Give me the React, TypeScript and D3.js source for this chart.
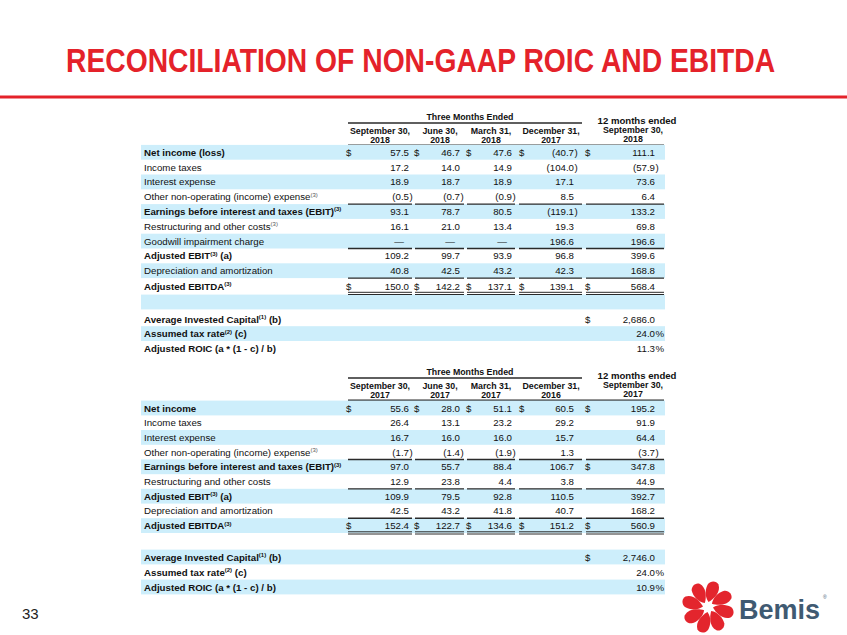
import React, { useLayoutEffect, useRef, useState } from 'react';
import * as d3 from 'd3';

const W = 847;
const H = 635;

// ---------- DATA ----------
const title = 'RECONCILIATION OF NON-GAAP ROIC AND EBITDA';
const pageNumber = '33';
const brand = 'Bemis';

const quarterHeaders2018 = [['September 30,', '2018'], ['June 30,', '2018'], ['March 31,', '2018'], ['December 31,', '2017']];
const annualHeader2018 = ['12 months ended', 'September 30,', '2018'];
const quarterHeaders2017 = [['September 30,', '2017'], ['June 30,', '2017'], ['March 31,', '2017'], ['December 31,', '2016']];
const annualHeader2017 = ['12 months ended', 'September 30,', '2017'];
const groupHeader = 'Three Months Ended';

const netIncome2018 = [57.5, 46.7, 47.6, -40.7, 111.1];
const incomeTaxes2018 = [17.2, 14.0, 14.9, -104.0, -57.9];
const interest2018 = [18.9, 18.7, 18.9, 17.1, 73.6];
const otherNonOp2018 = [-0.5, -0.7, -0.9, 8.5, 6.4];
const ebit2018 = [93.1, 78.7, 80.5, -119.1, 133.2];
const restructuring2018 = [16.1, 21.0, 13.4, 19.3, 69.8];
const goodwill2018 = [null, null, null, 196.6, 196.6];
const adjEbit2018 = [109.2, 99.7, 93.9, 96.8, 399.6];
const da2018 = [40.8, 42.5, 43.2, 42.3, 168.8];
const adjEbitda2018 = [150.0, 142.2, 137.1, 139.1, 568.4];
const investedCapital2018 = 2686.0;
const taxRate2018 = 24.0;
const roic2018 = 11.3;

const netIncome2017 = [55.6, 28.0, 51.1, 60.5, 195.2];
const incomeTaxes2017 = [26.4, 13.1, 23.2, 29.2, 91.9];
const interest2017 = [16.7, 16.0, 16.0, 15.7, 64.4];
const otherNonOp2017 = [-1.7, -1.4, -1.9, 1.3, -3.7];
const ebit2017 = [97.0, 55.7, 88.4, 106.7, 347.8];
const restructuring2017 = [12.9, 23.8, 4.4, 3.8, 44.9];
const adjEbit2017 = [109.9, 79.5, 92.8, 110.5, 392.7];
const da2017 = [42.5, 43.2, 41.8, 40.7, 168.2];
const adjEbitda2017 = [152.4, 122.7, 134.6, 151.2, 560.9];
const investedCapital2017 = 2746.0;
const taxRate2017 = 24.0;
const roic2017 = 10.9;

// ---------- STYLE / LAYOUT ----------
const FONT = '"Liberation Sans", Arial, Helvetica, sans-serif';
const RED = '#e4222a';
const BAND = '#cdeefb';
const INK = '#111';
const LINE = '#2a2a2a';
const FS = 9.7;

const colRight = [409, 460, 512, 574, 655];
const colDollar = [346, 414, 466, 519, 585];
const colLineL = [348, 415, 467, 519, 586];
const colLineR = [412, 464, 515, 582, 664];
const colCenter = [380, 440, 491, 551, 634];
const bandX0 = 141;
const bandX1 = 665;
const labelX = 144;
const titleX = 66;
const titleW = 709;

const fmt = d3.format(',.1f');

type Seg = { text: string; sup?: string; rest?: string };
type Row = {
  label?: Seg;
  bold?: boolean;
  values?: (number | null)[];
  single?: { value: number; suffix?: string };
  dollars?: number[];
  under?: 'single' | 'double';
  y: number;
};

function Label({ seg, bold, y }: { seg: Seg; bold?: boolean; y: number }) {
  return (
    <text x={labelX} y={y} fontFamily={FONT} fontSize={FS} fontWeight={bold ? 'bold' : 'normal'} fill={INK}>
      {seg.text}
      {seg.sup ? (
        <tspan fontSize={6} dy={-3.6} fill={bold ? INK : '#555'}>
          {seg.sup}
        </tspan>
      ) : null}
      {seg.rest ? <tspan dy={seg.sup ? 3.6 : 0}>{seg.rest}</tspan> : null}
    </text>
  );
}

function Num({ v, x, y, suffix }: { v: number | null; x: number; y: number; suffix?: string }) {
  if (v === null) {
    return (
      <text x={x - 5} y={y} textAnchor="end" fontFamily={FONT} fontSize={FS} fill={INK}>
        —
      </text>
    );
  }
  const neg = v < 0;
  const body = (neg ? '(' : '') + fmt(Math.abs(v));
  const hang = neg ? ')' : suffix || '';
  return (
    <g>
      <text x={x} y={y} textAnchor="end" fontFamily={FONT} fontSize={FS} fill={INK}>
        {body}
      </text>
      {hang ? (
        <text x={x + 0.4} y={y} fontFamily={FONT} fontSize={FS} fill={INK}>
          {hang}
        </text>
      ) : null}
    </g>
  );
}

function Header({ top, quarters, annual }: { top: number; quarters: string[][]; annual: string[] }) {
  const hf = 8.8;
  return (
    <g fontFamily={FONT} fontWeight="bold" fill={INK}>
      <text x={470} y={top + 3} textAnchor="middle" fontSize={hf}>
        {groupHeader}
      </text>
      <line x1={colLineL[0]} x2={colLineR[3]} y1={top + 6} y2={top + 6} stroke={LINE} strokeWidth={1.6} />
      {quarters.map((q, i) => (
        <g key={i}>
          <text x={colCenter[i]} y={top + 17} textAnchor="middle" fontSize={hf}>
            {q[0]}
          </text>
          <text x={colCenter[i]} y={top + 26} textAnchor="middle" fontSize={hf}>
            {q[1]}
          </text>
        </g>
      ))}
      <text x={637} y={top + 7} textAnchor="middle" fontSize={9.6}>
        {annual[0]}
      </text>
      <text x={633} y={top + 16} textAnchor="middle" fontSize={hf}>
        {annual[1]}
      </text>
      <text x={633} y={top + 25} textAnchor="middle" fontSize={hf}>
        {annual[2]}
      </text>
      <line x1={colLineL[0]} x2={colLineR[4]} y1={top + 28.6} y2={top + 28.6} stroke={LINE} strokeWidth={2} />
    </g>
  );
}

function Table({ rows }: { rows: Row[] }) {
  const half = 7.4;
  return (
    <g>
      {rows.map((r, i) =>
        i % 2 === 0 ? (
          <rect key={'b' + i} x={bandX0} y={r.y - half} width={bandX1 - bandX0} height={half * 2} fill={BAND} />
        ) : null
      )}
      {rows.map((r, i) => {
        const base = r.y + 3.5;
        return (
          <g key={'r' + i}>
            {r.label ? <Label seg={r.label} bold={r.bold} y={base} /> : null}
            {r.values ? r.values.map((v, c) => <Num key={c} v={v} x={colRight[c]} y={base} />) : null}
            {r.single ? <Num v={r.single.value} x={colRight[4]} y={base} suffix={r.single.suffix} /> : null}
            {(r.dollars || []).map((c) => (
              <text key={'d' + c} x={colDollar[c]} y={base} fontFamily={FONT} fontSize={FS} fill={INK}>
                $
              </text>
            ))}
            {r.under
              ? colLineL.map((x0, c) => (
                  <g key={'u' + c}>
                    {r.under === 'single' ? (
                      <line x1={x0} x2={colLineR[c]} y1={r.y + half} y2={r.y + half} stroke={LINE} strokeWidth={1.4} />
                    ) : (
                      <>
                        <line x1={x0} x2={colLineR[c]} y1={r.y + 6.2} y2={r.y + 6.2} stroke={LINE} strokeWidth={1} />
                        <line x1={x0} x2={colLineR[c]} y1={r.y + 8.4} y2={r.y + 8.4} stroke={LINE} strokeWidth={1} />
                      </>
                    )}
                  </g>
                ))
              : null}
          </g>
        );
      })}
    </g>
  );
}

const allCols = [0, 1, 2, 3, 4];

function rows2018(): Row[] {
  const y0 = 152.3;
  const st = 14.8;
  const y = (i: number) => y0 + i * st;
  return [
    { label: { text: 'Net income (loss)' }, bold: true, values: netIncome2018, dollars: allCols, y: y(0) },
    { label: { text: 'Income taxes' }, values: incomeTaxes2018, y: y(1) },
    { label: { text: 'Interest expense' }, values: interest2018, y: y(2) },
    { label: { text: 'Other non-operating (income) expense', sup: '(3)' }, values: otherNonOp2018, under: 'single', y: y(3) },
    { label: { text: 'Earnings before interest and taxes (EBIT)', sup: '(3)' }, bold: true, values: ebit2018, y: y(4) },
    { label: { text: 'Restructuring and other costs', sup: '(3)' }, values: restructuring2018, y: y(5) },
    { label: { text: 'Goodwill impairment charge' }, values: goodwill2018, under: 'single', y: y(6) },
    { label: { text: 'Adjusted EBIT', sup: '(3)', rest: ' (a)' }, bold: true, values: adjEbit2018, y: y(7) },
    { label: { text: 'Depreciation and amortization' }, values: da2018, under: 'single', y: y(8) },
    { label: { text: 'Adjusted EBITDA', sup: '(3)' }, bold: true, values: adjEbitda2018, dollars: allCols, under: 'double', y: y(9) + 0.6 },
    { y: 302 },
    { label: { text: 'Average Invested Capital', sup: '(1)', rest: ' (b)' }, bold: true, single: { value: investedCapital2018 }, dollars: [4], y: 319 },
    { label: { text: 'Assumed tax rate', sup: '(2)', rest: ' (c)' }, bold: true, single: { value: taxRate2018, suffix: '%' }, y: 333.6 },
    { label: { text: 'Adjusted ROIC (a * (1 - c) / b)' }, bold: true, single: { value: roic2018, suffix: '%' }, y: 348 },
  ];
}

function rows2017(): Row[] {
  const y0 = 408;
  const st = 14.7;
  const y = (i: number) => y0 + i * st;
  return [
    { label: { text: 'Net income' }, bold: true, values: netIncome2017, dollars: allCols, y: y(0) },
    { label: { text: 'Income taxes' }, values: incomeTaxes2017, y: y(1) },
    { label: { text: 'Interest expense' }, values: interest2017, y: y(2) },
    { label: { text: 'Other non-operating (income) expense', sup: '(3)' }, values: otherNonOp2017, under: 'single', y: y(3) },
    { label: { text: 'Earnings before interest and taxes (EBIT)', sup: '(3)' }, bold: true, values: ebit2017, dollars: [4], y: y(4) },
    { label: { text: 'Restructuring and other costs' }, values: restructuring2017, under: 'single', y: y(5) },
    { label: { text: 'Adjusted EBIT', sup: '(3)', rest: ' (a)' }, bold: true, values: adjEbit2017, y: y(6) },
    { label: { text: 'Depreciation and amortization' }, values: da2017, under: 'single', y: y(7) },
    { label: { text: 'Adjusted EBITDA', sup: '(3)' }, bold: true, values: adjEbitda2017, dollars: allCols, under: 'double', y: y(8) },
    { y: 542 },
    { label: { text: 'Average Invested Capital', sup: '(1)', rest: ' (b)' }, bold: true, single: { value: investedCapital2017 }, dollars: [4], y: 557 },
    { label: { text: 'Assumed tax rate', sup: '(2)', rest: ' (c)' }, bold: true, single: { value: taxRate2017, suffix: '%' }, y: 572 },
    { label: { text: 'Adjusted ROIC (a * (1 - c) / b)' }, bold: true, single: { value: roic2017, suffix: '%' }, y: 587 },
  ];
}

function Logo() {
  const cx = 708;
  const cy = 607;
  const petal = 'M 0.5 -5 C 6 -8, 13 -15, 10.5 -22.5 C 8.5 -26.5, 2.5 -26.5, 0 -23 C -3 -18, -3.5 -10.5, 0.5 -5 Z';
  return (
    <g>
      {d3.range(8).map((k) => (
        <path key={k} d={petal} transform={`translate(${cx},${cy}) rotate(${k * 45})`} fill="#e3252d" />
      ))}
      <text x={739} y={619} fontFamily={FONT} fontWeight="bold" fontSize={27} fill="#3f5a72">
        {brand}
      </text>
      <text x={823} y={599} fontFamily={FONT} fontSize={5} fill="#3f5a72">
        ®
      </text>
    </g>
  );
}

function Title() {
  const ref = useRef<SVGTextElement | null>(null);
  const [sx, setSx] = useState(0.852);
  useLayoutEffect(() => {
    if (ref.current) {
      const len = ref.current.getComputedTextLength();
      if (len > 0) setSx(titleW / len);
    }
  }, []);
  return (
    <g transform={`translate(${titleX},72) scale(${sx},1)`}>
      <text ref={ref} x={0} y={0} fontFamily={FONT} fontWeight="bold" fontSize={33} fill={RED}>
        {title}
      </text>
    </g>
  );
}

export default function App() {
  return (
    <div style={{ position: 'absolute', left: 0, top: 0 }}>
      <svg width={W} height={H} viewBox={`0 0 ${W} ${H}`} style={{ display: 'block', background: '#fff' }}>
        <rect width={W} height={H} fill="#fff" />
        <Title />
        <rect x={0} y={95.5} width={W} height={3} fill={RED} />
        <Header top={117} quarters={quarterHeaders2018} annual={annualHeader2018} />
        <Table rows={rows2018()} />
        <Header top={372} quarters={quarterHeaders2017} annual={annualHeader2017} />
        <Table rows={rows2017()} />
        <text x={22} y={619} fontFamily={FONT} fontSize={15} fill="#222">
          {pageNumber}
        </text>
        <Logo />
      </svg>
    </div>
  );
}
